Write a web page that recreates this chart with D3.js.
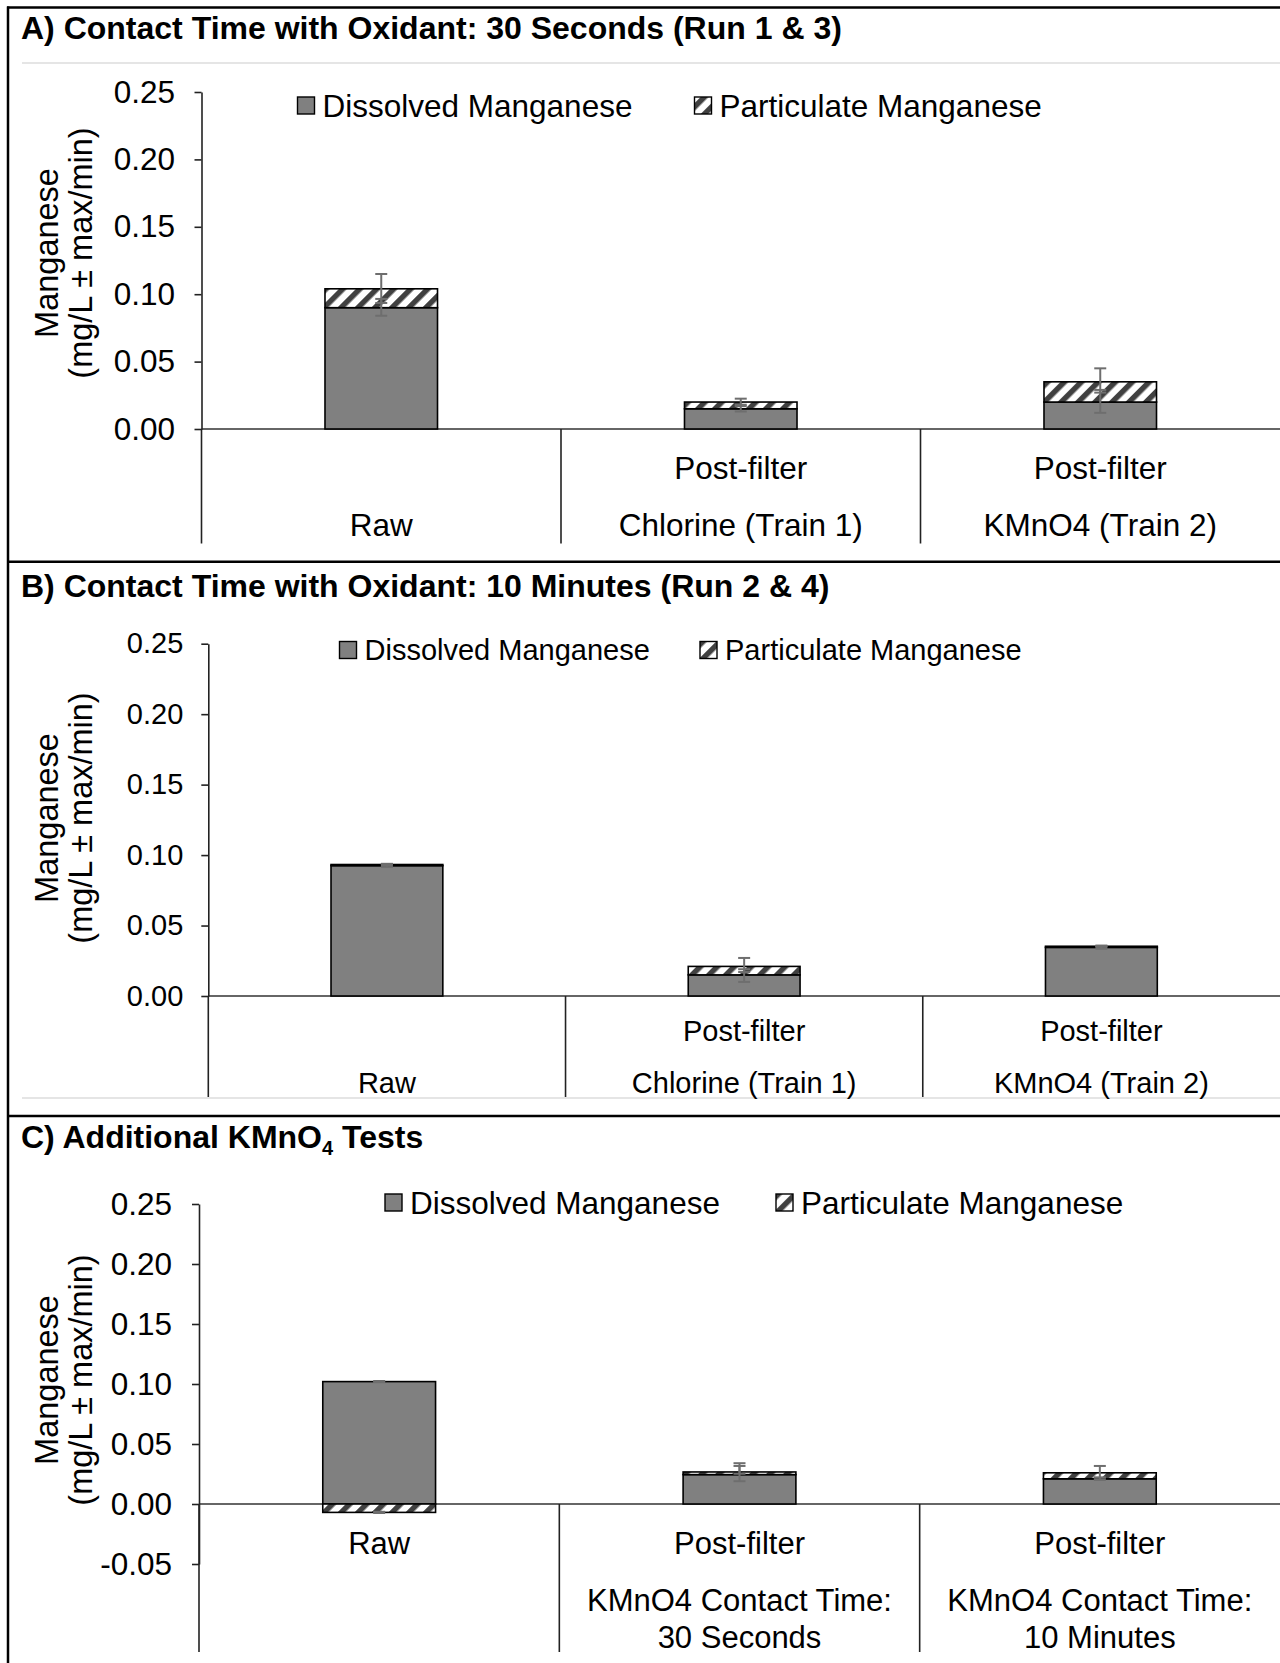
<!DOCTYPE html>
<html>
<head>
<meta charset="utf-8">
<script src="https://cdn.jsdelivr.net/npm/d3@7"></script>
<style>
  body { margin: 0; background: #fff; }
  svg text { font-family: "Liberation Sans", Arial, sans-serif; fill: #000; }
</style>
</head>
<body>
<svg id="chart" width="1280" height="1663"></svg>
<script>
// values (mg/L)
var seriesKeys = ["dissolved", "particulate"];
var seriesNames = ["Dissolved Manganese", "Particulate Manganese"];

// panel A
var titleA = "A) Contact Time with Oxidant: 30 Seconds (Run 1 & 3)";
var labelsA = [["", "Raw"], ["Post-filter", "Chlorine (Train 1)"], ["Post-filter", "KMnO4 (Train 2)"]];
var dissolvedA = [0.090, 0.015, 0.020];
var particulateA = [0.014, 0.005, 0.015];
var dissolvedErrA = [[0.006, 0.0065], [0.002, 0.003], [0.008, 0.009]];   // [minus, plus]
var particulateErrA = [[0.0105, 0.011], [0.003, 0.0025], [0.008, 0.010]];
var ticksA = [0, 0.05, 0.10, 0.15, 0.20, 0.25];

// panel B
var titleB = "B) Contact Time with Oxidant: 10 Minutes (Run 2 & 4)";
var labelsB = [["", "Raw"], ["Post-filter", "Chlorine (Train 1)"], ["Post-filter", "KMnO4 (Train 2)"]];
var dissolvedB = [0.0925, 0.015, 0.0345];
var particulateB = [0.0008, 0.006, 0.0008];
var dissolvedErrB = [[0.001, 0.001], [0.005, 0.004], [0.001, 0.001]];
var particulateErrB = [[0.0005, 0.0005], [0.004, 0.006], [0.0005, 0.0005]];
var ticksB = [0, 0.05, 0.10, 0.15, 0.20, 0.25];

// panel C
var labelsC = [["Raw", "", ""], ["Post-filter", "KMnO4 Contact Time:", "30 Seconds"], ["Post-filter", "KMnO4 Contact Time:", "10 Minutes"]];
var dissolvedC = [0.102, 0.0245, 0.021];
var particulateC = [-0.007, 0.0022, 0.005];
var dissolvedErrC = [[0.0005, 0.0005], [0.0055, 0.0072], [0.001, 0.001]];
var particulateErrC = [[0.0005, 0.0005], [0.0015, 0.0073], [0.004, 0.0057]];
var ticksC = [-0.05, 0, 0.05, 0.10, 0.15, 0.20, 0.25];

var svg = d3.select("#chart");
svg.append("rect").attr("width", 1280).attr("height", 1663).attr("fill", "#fff");

var defs = svg.append("defs");
var pat = defs.append("pattern")
    .attr("id", "hatch")
    .attr("patternUnits", "userSpaceOnUse")
    .attr("width", 12).attr("height", 12)
    .attr("patternTransform", "rotate(45)");
pat.append("rect").attr("width", 12).attr("height", 12).attr("fill", "#fff");
pat.append("rect").attr("width", 5.5).attr("height", 12).attr("fill", "#404040");

// frame lines between panels
svg.append("line").attr("x1", 8).attr("x2", 8).attr("y1", 6.5).attr("y2", 1663)
    .attr("stroke", "#000").attr("stroke-width", 2.5);
[7.5, 561.7, 1116].forEach(function (yy) {
    svg.append("line").attr("x1", 7).attr("x2", 1280).attr("y1", yy).attr("y2", yy)
        .attr("stroke", "#000").attr("stroke-width", 2.5);
});
[63, 1098].forEach(function (yy) {
    svg.append("line").attr("x1", 22).attr("x2", 1280).attr("y1", yy).attr("y2", yy)
        .attr("stroke", "#dcdcdc").attr("stroke-width", 1.5);
});

function drawPanel(p) {
    var g = svg.append("g");

    // title
    var t = g.append("text")
        .attr("x", 21).attr("y", p.titleY).attr("dy", "0.35em")
        .attr("font-size", 32).attr("font-weight", "bold");
    p.title.forEach(function (part) {
        var ts = t.append("tspan").text(part.text);
        if (part.sub) ts.attr("font-size", 20).attr("dy", 7);
        if (part.after) ts.attr("dy", -7);
    });

    var rows = p.labels.map(function (l, i) {
        return { cat: i, dissolved: p.dissolved[i], particulate: p.particulate[i] };
    });

    var x = d3.scaleBand()
        .domain(rows.map(function (d) { return d.cat; }))
        .range([p.axisX, 1280]);

    var y = d3.scaleLinear()
        .domain([p.ticks[0], 0.25])
        .range([p.yMin, p.yMax]);

    var stack = d3.stack().keys(seriesKeys).offset(d3.stackOffsetDiverging);
    var layers = stack(rows);

    var barW = x.bandwidth() * 0.313;

    // zero line
    g.append("line")
        .attr("x1", p.axisX).attr("x2", 1280)
        .attr("y1", y(0)).attr("y2", y(0))
        .attr("stroke", "#333").attr("stroke-width", 1.6);

    // bars
    layers.forEach(function (layer, k) {
        g.append("g").selectAll("rect")
            .data(layer)
            .enter().append("rect")
            .attr("x", function (d, i) { return x(i) + (x.bandwidth() - barW) / 2; })
            .attr("width", barW)
            .attr("y", function (d) { return y(d[1]); })
            .attr("height", function (d) { return Math.max(0, y(d[0]) - y(d[1])); })
            .attr("fill", k === 0 ? "#808080" : "url(#hatch)")
            .attr("stroke", "#000").attr("stroke-width", 1.6);
    });

    // error bars (dissolved then particulate)
    var errs = [p.dissolvedErr, p.particulateErr];
    layers.forEach(function (layer, k) {
        layer.forEach(function (d, i) {
            var v = rows[i][seriesKeys[k]];
            var c = v >= 0 ? d[1] : d[0];
            var e = errs[k][i];
            var cx = x(i) + x.bandwidth() / 2;
            var ys = [y(c - e[0]), y(c + e[1])];
            var eg = g.append("g").attr("stroke", "#6e6e6e").attr("stroke-width", 2);
            eg.append("line").attr("x1", cx).attr("x2", cx).attr("y1", ys[0]).attr("y2", ys[1]);
            ys.forEach(function (yy) {
                eg.append("line").attr("x1", cx - 6).attr("x2", cx + 6).attr("y1", yy).attr("y2", yy);
            });
        });
    });

    // y axis
    var axis = g.append("g")
        .attr("transform", "translate(" + p.axisX + ",0)")
        .call(d3.axisLeft(y)
            .tickValues(p.ticks)
            .tickFormat(function (d) { return d.toFixed(2); })
            .tickSize(7)
            .tickSizeOuter(0)
            .tickPadding(p.tickPad));
    axis.select(".domain").attr("stroke", "#222").attr("stroke-width", 1.6);
    axis.selectAll(".tick line").attr("stroke", "#222").attr("stroke-width", 1.6);
    axis.selectAll(".tick text")
        .attr("font-size", p.tickFont)
        .attr("font-family", "Liberation Sans, Arial, sans-serif")
        .attr("fill", "#000");

    // axis title
    var tx = g.append("text")
        .attr("transform", "translate(0," + p.yTitleY + ") rotate(-90)")
        .attr("text-anchor", "middle")
        .attr("font-size", 32.5);
    tx.append("tspan").attr("x", 0).attr("y", 46.5).attr("dy", "0.35em").text("Manganese");
    tx.append("tspan").attr("x", 0).attr("y", 81).attr("dy", "0.35em").text("(mg/L \u00b1 max/min)");

    // category separators (left edge + inner boundaries)
    d3.range(3).forEach(function (i) {
        var sx = x(i);
        g.append("line")
            .attr("x1", sx).attr("x2", sx)
            .attr("y1", y(0)).attr("y2", p.labelBottom)
            .attr("stroke", "#222").attr("stroke-width", 1.6);
    });

    // category labels
    p.labels.forEach(function (lines, i) {
        lines.forEach(function (s, j) {
            if (!s) return;
            g.append("text")
                .attr("x", x(i) + x.bandwidth() / 2)
                .attr("y", p.labelY[j]).attr("dy", "0.35em")
                .attr("text-anchor", "middle")
                .attr("font-size", p.labelFont)
                .text(s);
        });
    });

    // legend
    seriesNames.forEach(function (name, k) {
        var lx = p.legendX[k];
        g.append("rect")
            .attr("x", lx).attr("y", p.legendY - 8.5)
            .attr("width", 17).attr("height", 17)
            .attr("fill", k === 0 ? "#808080" : "url(#hatch)")
            .attr("stroke", "#000").attr("stroke-width", 1.4);
        g.append("text")
            .attr("x", lx + 25).attr("y", p.legendY).attr("dy", "0.35em")
            .attr("font-size", p.legendFont)
            .text(name);
    });
}

drawPanel({
    title: [{ text: titleA }], titleY: 28,
    labels: labelsA, dissolved: dissolvedA, particulate: particulateA,
    dissolvedErr: dissolvedErrA, particulateErr: particulateErrA, ticks: ticksA,
    axisX: 201.5, yMin: 429, yMax: 92, tickFont: 31.5, tickPad: 19.5,
    yTitleY: 253, labelBottom: 543.5, labelY: [468, 525], labelFont: 31.5,
    legendX: [297.5, 694.5], legendY: 105.5, legendFont: 31.5
});

drawPanel({
    title: [{ text: titleB }], titleY: 586,
    labels: labelsB, dissolved: dissolvedB, particulate: particulateB,
    dissolvedErr: dissolvedErrB, particulateErr: particulateErrB, ticks: ticksB,
    axisX: 208.3, yMin: 996, yMax: 643.7, tickFont: 29, tickPad: 18,
    yTitleY: 818, labelBottom: 1097, labelY: [1031, 1083], labelFont: 29,
    legendX: [339.5, 700], legendY: 650, legendFont: 29
});

drawPanel({
    title: [{ text: "C) Additional KMnO" }, { text: "4", sub: true }, { text: " Tests", after: true }], titleY: 1137,
    labels: labelsC, dissolved: dissolvedC, particulate: particulateC,
    dissolvedErr: dissolvedErrC, particulateErr: particulateErrC, ticks: ticksC,
    axisX: 199, yMin: 1564, yMax: 1204, tickFont: 31.5, tickPad: 20,
    yTitleY: 1380, labelBottom: 1652, labelY: [1543.5, 1600, 1637], labelFont: 31,
    legendX: [385, 776], legendY: 1202.5, legendFont: 31.5
});
</script>
</body>
</html>
